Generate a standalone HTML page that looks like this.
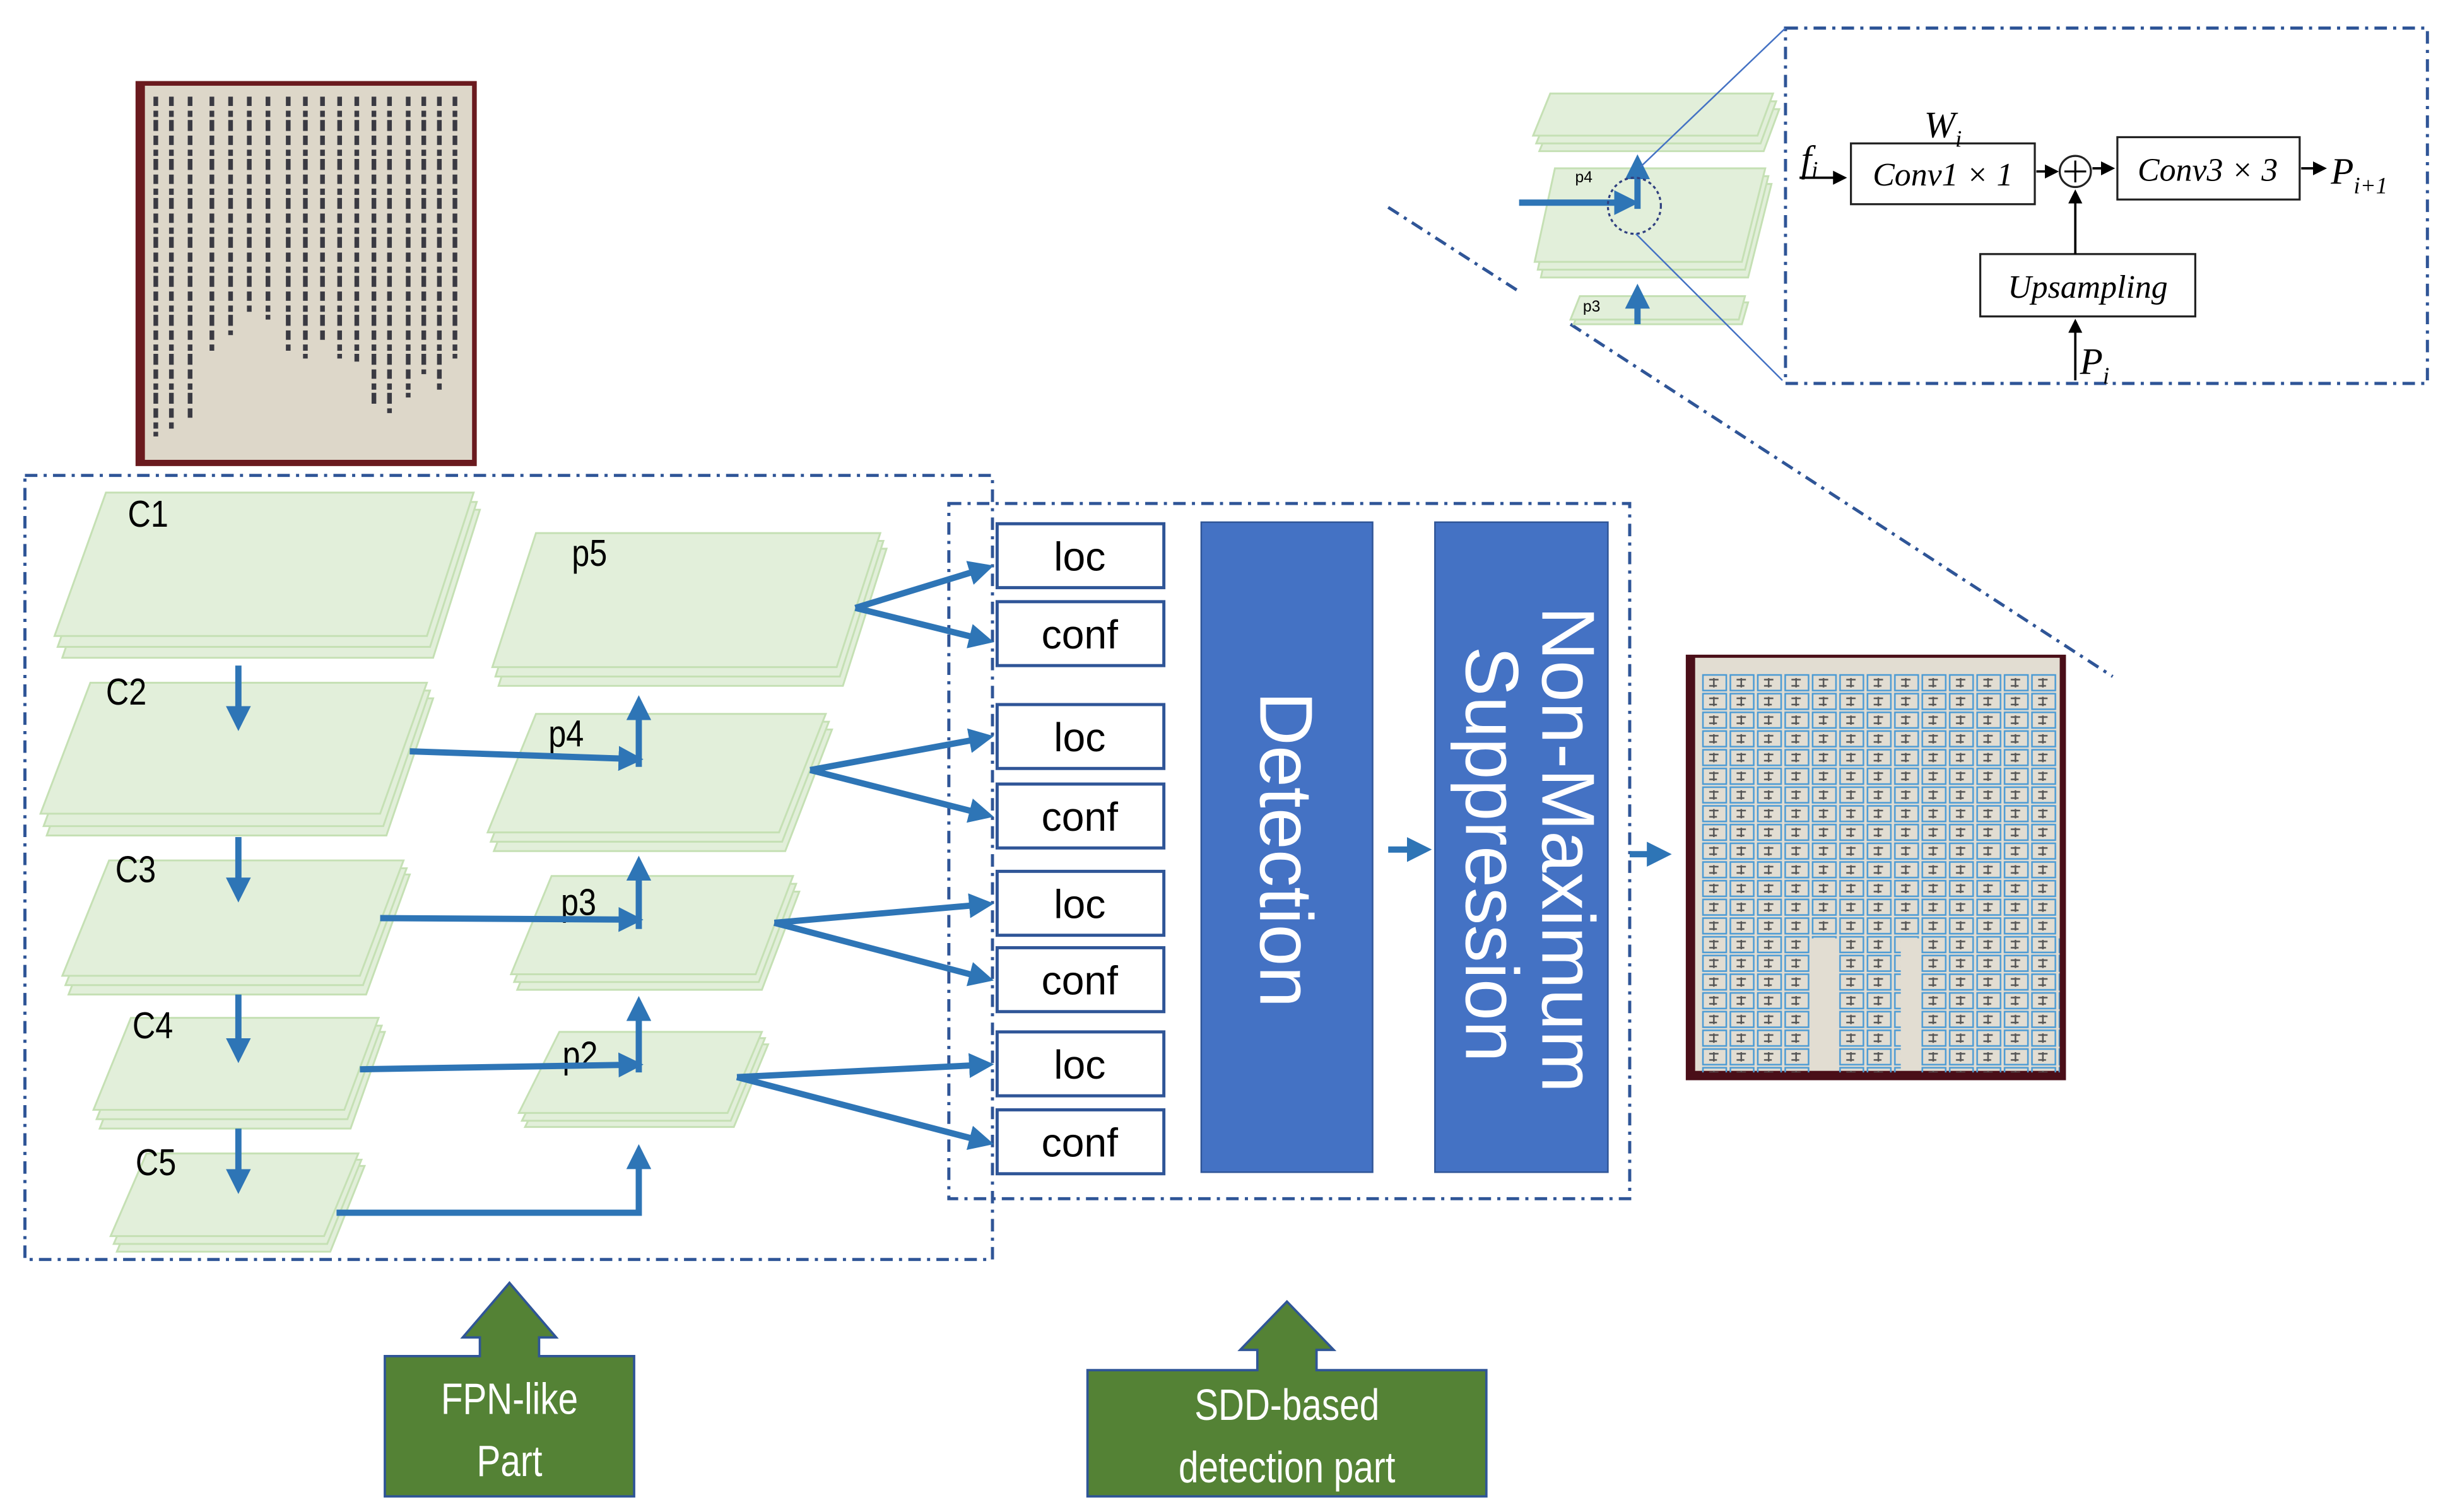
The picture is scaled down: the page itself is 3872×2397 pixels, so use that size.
<!DOCTYPE html>
<html><head><meta charset="utf-8"><style>
html,body{margin:0;padding:0;background:#fff;width:3872px;height:2397px;overflow:hidden}
svg{display:block}
</style></head><body>
<svg width="3872" height="2397" viewBox="0 0 1568 970" preserveAspectRatio="none" xmlns="http://www.w3.org/2000/svg">
<defs>
<marker id="ab" markerWidth="4" markerHeight="4" refX="3" refY="2" orient="auto" markerUnits="strokeWidth"><path d="M0,0 L4,2 L0,4 z" fill="#2e75b6"/></marker>
<marker id="ak" markerWidth="6" markerHeight="6" refX="5" refY="3" orient="auto" markerUnits="strokeWidth"><path d="M0,0 L6,3 L0,6 z" fill="#000"/></marker>
<pattern id="boxes" x="1092" y="432" width="17.6" height="12" patternUnits="userSpaceOnUse">
<rect x="1" y="1" width="15" height="10" fill="none" stroke="#4a9ad4" stroke-width="1"/>
<path d="M5,4 h6 M8,3 v6 M5,8 h5" stroke="#555" stroke-width="1"/>
</pattern>
</defs>

<!-- left photo -->
<rect x="87" y="52" width="219" height="247" fill="#6a1a1e"/>
<rect x="93" y="55" width="210" height="240" fill="#ddd7c9"/>
<g stroke="#3a3a42" stroke-width="3" stroke-dasharray="6 3 4 2 7 3">
<line x1="292" y1="62" x2="292" y2="230"/><line x1="282" y1="62" x2="282" y2="250"/>
<line x1="272" y1="62" x2="272" y2="240"/><line x1="262" y1="62" x2="262" y2="255"/>
<line x1="250" y1="62" x2="250" y2="265"/><line x1="240" y1="62" x2="240" y2="262"/>
<line x1="229" y1="62" x2="229" y2="232"/><line x1="218" y1="62" x2="218" y2="230"/>
<line x1="207" y1="62" x2="207" y2="220"/><line x1="196" y1="62" x2="196" y2="230"/>
<line x1="185" y1="62" x2="185" y2="225"/><line x1="172" y1="62" x2="172" y2="205"/>
<line x1="160" y1="62" x2="160" y2="200"/><line x1="148" y1="62" x2="148" y2="215"/>
<line x1="136" y1="62" x2="136" y2="225"/><line x1="122" y1="62" x2="122" y2="270"/>
<line x1="110" y1="62" x2="110" y2="275"/><line x1="100" y1="62" x2="100" y2="280"/>
</g>

<!-- right photo -->
<rect x="1082" y="420" width="244" height="273" fill="#4a0e18"/>
<rect x="1088" y="422" width="234" height="265" fill="#e2ddd2"/>
<rect x="1092" y="432" width="228" height="110" fill="url(#boxes)"/>
<rect x="1092" y="542" width="228" height="60" fill="url(#boxes)"/>
<rect x="1092" y="602" width="70" height="86" fill="url(#boxes)"/>
<rect x="1180" y="602" width="40" height="86" fill="url(#boxes)"/>
<rect x="1232" y="602" width="90" height="86" fill="url(#boxes)"/>

<!-- dashed boxes -->
<g fill="none" stroke="#2f5597" stroke-width="2" stroke-dasharray="8 4 2 4">
<rect x="16" y="305" width="621" height="503"/>
<rect x="609" y="323" width="437" height="446"/>
<rect x="1146" y="18" width="412" height="228"/>
<line x1="891" y1="133" x2="975" y2="187"/>
<line x1="1008" y1="208" x2="1356" y2="434"/>
</g>

<!-- stacks -->
<g fill="#e2efda" stroke="#c5e0b4" stroke-width="1.2">
<polygon points="72,327 308,327 278,422 40,422"/><polygon points="70,322 306,322 276,415 37,415"/><polygon points="68,316 304,316 274,408 35,408"/>
<polygon points="62,448 278,448 248,536 30,536"/><polygon points="60,443 276,443 246,530 28,530"/><polygon points="58,438 274,438 244,522 26,522"/>
<polygon points="74,561 263,561 235,638 44,638"/><polygon points="72,557 261,557 233,632 42,632"/><polygon points="70,552 259,552 231,626 40,626"/>
<polygon points="88,662 247,662 225,724 64,724"/><polygon points="86,658 245,658 223,718 62,718"/><polygon points="84,653 243,653 221,712 60,712"/>
<polygon points="98,748 234,748 212,803 75,803"/><polygon points="96,744 232,744 210,798 73,798"/><polygon points="94,740 230,740 208,793 71,793"/>
<polygon points="348,352 569,352 541,440 320,440"/><polygon points="346,347 567,347 539,434 318,434"/><polygon points="344,342 565,342 537,428 316,428"/>
<polygon points="348,468 534,468 504,546 317,546"/><polygon points="346,463 532,463 502,540 315,540"/><polygon points="344,458 530,458 500,534 313,534"/>
<polygon points="358,572 513,572 489,635 332,635"/><polygon points="356,567 511,567 487,630 330,630"/><polygon points="354,562 509,562 485,625 328,625"/>
<polygon points="363,670 493,670 471,723 337,723"/><polygon points="361,666 491,666 469,719 335,719"/><polygon points="359,662 489,662 467,714 333,714"/>
<polygon points="999,70 1142,70 1132,97 988,97"/><polygon points="997,65 1140,65 1130,92 986,92"/><polygon points="995,60 1138,60 1128,87 984,87"/>
<polygon points="1002,118 1137,118 1122,178 989,178"/><polygon points="1000,113 1135,113 1120,173 987,173"/><polygon points="998,108 1133,108 1118,168 985,168"/>
<polygon points="1016,194 1122,194 1118,208 1010,208"/><polygon points="1014,190 1120,190 1116,205 1008,205"/>
</g>

<!-- labels -->
<g font-family="'Liberation Sans',sans-serif" font-size="24" fill="#000">
<text transform="translate(82,338) scale(0.85,1)">C1</text><text transform="translate(68,452) scale(0.85,1)">C2</text><text transform="translate(74,566) scale(0.85,1)">C3</text>
<text transform="translate(85,666) scale(0.85,1)">C4</text><text transform="translate(87,754) scale(0.85,1)">C5</text>
<text transform="translate(367,363) scale(0.85,1)">p5</text><text transform="translate(352,479) scale(0.85,1)">p4</text><text transform="translate(360,587) scale(0.85,1)">p3</text><text transform="translate(361,685) scale(0.85,1)">p2</text>
</g>
<g font-family="'Liberation Sans',sans-serif" font-size="10" fill="#000"><text x="1011" y="117">p4</text><text x="1016" y="200">p3</text></g>

<!-- blue arrows -->
<g stroke="#2e75b6" stroke-width="4" fill="none" marker-end="url(#ab)">
<line x1="153" y1="427" x2="153" y2="465"/><line x1="153" y1="537" x2="153" y2="575"/>
<line x1="153" y1="638" x2="153" y2="678"/><line x1="153" y1="724" x2="153" y2="762"/>
<line x1="263" y1="482" x2="409" y2="487"/><line x1="410" y1="492" x2="410" y2="450"/>
<line x1="244" y1="589" x2="409" y2="590"/><line x1="410" y1="596" x2="410" y2="553"/>
<line x1="231" y1="686" x2="409" y2="683"/><line x1="410" y1="688" x2="410" y2="643"/>
<polyline points="216,778 410,778 410,738"/>
<line x1="549" y1="390" x2="634" y2="364"/><line x1="549" y1="390" x2="634" y2="411"/>
<line x1="520" y1="494" x2="634" y2="473"/><line x1="520" y1="494" x2="634" y2="523"/>
<line x1="497" y1="592" x2="634" y2="580"/><line x1="497" y1="592" x2="634" y2="628"/>
<line x1="473" y1="691" x2="634" y2="683"/><line x1="473" y1="691" x2="634" y2="733"/>
<line x1="891" y1="545" x2="915" y2="545"/><line x1="1046" y1="548" x2="1069" y2="548"/>
<line x1="975" y1="130" x2="1048" y2="130"/><line x1="1051" y1="134" x2="1051" y2="103"/>
<line x1="1051" y1="208" x2="1051" y2="186"/>
</g>
<ellipse cx="1049" cy="132" rx="17" ry="18" fill="none" stroke="#2f3f7f" stroke-width="1.3" stroke-dasharray="2 2"/>
<g stroke="#4472c4" stroke-width="1"><line x1="1053" y1="107" x2="1146" y2="18"/><line x1="1050" y1="150" x2="1144" y2="244"/></g>

<!-- loc/conf -->
<g fill="#fff" stroke="#2f5597" stroke-width="2">
<rect x="640" y="336" width="107" height="41"/><rect x="640" y="386" width="107" height="41"/>
<rect x="640" y="452" width="107" height="41"/><rect x="640" y="503" width="107" height="41"/>
<rect x="640" y="559" width="107" height="41"/><rect x="640" y="608" width="107" height="41"/>
<rect x="640" y="662" width="107" height="41"/><rect x="640" y="712" width="107" height="41"/>
</g>
<g font-family="'Liberation Sans',sans-serif" font-size="26" fill="#000" text-anchor="middle">
<text x="693" y="366">loc</text><text x="693" y="416">conf</text>
<text x="693" y="482">loc</text><text x="693" y="533">conf</text>
<text x="693" y="589">loc</text><text x="693" y="638">conf</text>
<text x="693" y="692">loc</text><text x="693" y="742">conf</text>
</g>
<rect x="771" y="335" width="110" height="417" fill="#4472c4" stroke="#2f5597" stroke-width="1"/>
<rect x="921" y="335" width="111" height="417" fill="#4472c4" stroke="#2f5597" stroke-width="1"/>
<g font-family="'Liberation Sans',sans-serif" font-size="48" fill="#fff" text-anchor="middle">
<text transform="translate(809,545) rotate(90)">Detection</text>
<text transform="translate(990,545) rotate(90)">Non-Maximum</text>
<text transform="translate(941,548) rotate(90)">Suppression</text>
</g>

<!-- green arrows -->
<g fill="#548235" stroke="#2f5597" stroke-width="1.5">
<path d="M247,870 L308,870 L308,858 L297,858 L327,823 L357,858 L346,858 L346,870 L407,870 L407,960 L247,960 Z"/>
<path d="M698,879 L807,879 L807,866 L796,866 L826,835 L856,866 L845,866 L845,879 L954,879 L954,960 L698,960 Z"/>
</g>
<g font-family="'Liberation Sans',sans-serif" font-size="28" fill="#fff" text-anchor="middle">
<text transform="translate(327,907) scale(0.82,1)">FPN-like</text><text transform="translate(327,947) scale(0.82,1)">Part</text>
<text transform="translate(826,911) scale(0.82,1)">SDD-based</text><text transform="translate(826,951) scale(0.82,1)">detection part</text>
</g>

<!-- inset diagram -->
<g fill="#fff" stroke="#222" stroke-width="1.3">
<rect x="1188" y="92" width="118" height="39"/>
<rect x="1359" y="88" width="117" height="40"/>
<rect x="1271" y="163" width="138" height="40"/>
<circle cx="1332" cy="110" r="10"/>
</g>
<g stroke="#000" stroke-width="1.5" marker-end="url(#ak)">
<line x1="1155" y1="114" x2="1184" y2="114"/><line x1="1307" y1="110" x2="1320" y2="110"/>
<line x1="1343" y1="108" x2="1356" y2="108"/><line x1="1477" y1="108" x2="1492" y2="108"/>
<line x1="1332" y1="163" x2="1332" y2="123"/><line x1="1332" y1="244" x2="1332" y2="206"/>
</g>
<line x1="1325" y1="110" x2="1339" y2="110" stroke="#000" stroke-width="1.3"/><line x1="1332" y1="103" x2="1332" y2="117" stroke="#000" stroke-width="1.3"/>
<g font-family="'Liberation Serif',serif" font-style="italic" fill="#000">
<text x="1247" y="119" font-size="21" text-anchor="middle">Conv1 × 1</text>
<text x="1417" y="116" font-size="21" text-anchor="middle">Conv3 × 3</text>
<text x="1340" y="191" font-size="21" text-anchor="middle">Upsampling</text>
<text x="1235" y="88" font-size="24">W<tspan font-size="15" dy="6">i</tspan></text>
<text x="1156" y="110" font-size="24">f<tspan font-size="15" dy="4">i</tspan></text>
<text x="1496" y="118" font-size="24">P<tspan font-size="15" dy="6">i+1</tspan></text>
<text x="1335" y="240" font-size="24">P<tspan font-size="15" dy="6">i</tspan></text>
</g>
</svg>
</body></html>
